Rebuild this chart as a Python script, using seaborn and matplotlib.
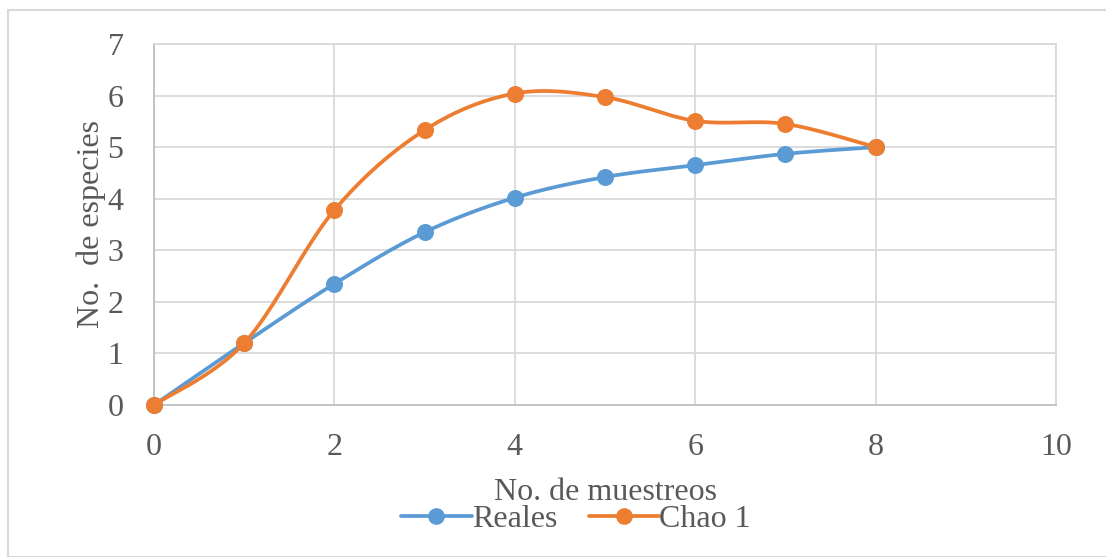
import numpy as np
import pandas as pd
import matplotlib.pyplot as plt
import seaborn as sns
from matplotlib.lines import Line2D
from matplotlib.patches import Rectangle

muestreos = [0, 1, 2, 3, 4, 5, 6, 7, 8]
reales = [0, 1.20, 2.35, 3.35, 4.02, 4.42, 4.65, 4.87, 5.0]
chao1 = [0, 1.20, 3.78, 5.33, 6.04, 5.97, 5.51, 5.45, 5.0]
series_names = ['Reales', 'Chao 1']
colores = ['#5B9BD5', '#ED7D31']


def suavizar(x, y, n=40):
    # curva tipo Excel (Catmull-Rom con Bezier)
    p = np.column_stack([x, y]).astype(float)
    p = np.vstack([p[0], p, p[-1]])
    out = []
    for i in range(1, len(p) - 2):
        p0, p3 = p[i], p[i + 1]
        c1 = p0 + (p[i + 1] - p[i - 1]) / 6
        c2 = p3 - (p[i + 2] - p[i]) / 6
        t = np.linspace(0, 1, n)[:, None]
        seg = ((1 - t) ** 3) * p0 + 3 * ((1 - t) ** 2) * t * c1 + 3 * (1 - t) * t ** 2 * c2 + t ** 3 * p3
        out.append(seg)
    out = np.vstack(out)
    return out[:, 0], out[:, 1]


sns.set_style('white')
plt.rcParams['font.family'] = ['Liberation Serif', 'DejaVu Serif']
gris = '#595959'

fig = plt.figure(figsize=[11.06, 5.57], dpi=100)
ax = fig.add_axes([154 / 1106, 1 - 405 / 557, (1056 - 154) / 1106, (405 - 44) / 557])

handles = []
for nombre, vals, col in zip(series_names, [reales, chao1], colores):
    sx, sy = suavizar(muestreos, vals)
    df = pd.DataFrame({'x': sx, 'y': sy})
    sns.lineplot(data=df, x='x', y='y', sort=False, color=col, linewidth=2.7, ax=ax, zorder=3)
    pts = pd.DataFrame({'x': muestreos, 'y': vals})
    sns.scatterplot(data=pts, x='x', y='y', color=col, s=150, edgecolor=col, linewidth=0,
                    ax=ax, zorder=4, clip_on=False)
    handles.append(Line2D([], [], color=col, lw=2.7, marker='o', markersize=11, label=nombre))

ax.set_xlim(0, 10)
ax.set_ylim(0, 7)
ax.set_xticks(range(0, 11, 2))
ax.set_yticks(range(0, 8))
ax.grid(True, color='#d9d9d9', linewidth=1.3)
ax.set_axisbelow(True)
for s in ax.spines.values():
    s.set_color('#d9d9d9')
    s.set_linewidth(1.3)
ax.spines['left'].set_color('#bfbfbf')
ax.spines['bottom'].set_color('#bfbfbf')
ax.tick_params(axis='x', length=0, labelsize=23, colors=gris, pad=20)
ax.tick_params(axis='y', length=0, labelsize=23, colors=gris, pad=22)
ax.set_xlabel('No. de muestreos', fontsize=23, color=gris, labelpad=12)
ax.set_ylabel('No.  de especies', fontsize=23, color=gris, labelpad=1)

fig.legend(handles=handles, loc='center', bbox_to_anchor=(576 / 1106, 1 - 519 / 557), ncol=2,
           frameon=False, fontsize=23, handlelength=2.2, columnspacing=1.0,
           handletextpad=0.0, labelcolor=gris)

fig.patches.append(Rectangle((8 / 1106, 0), 1.2, 1 - 10 / 557, transform=fig.transFigure,
                             fill=False, edgecolor='#d9d9d9', linewidth=1.5))

fig.savefig('out.png', dpi=100)
